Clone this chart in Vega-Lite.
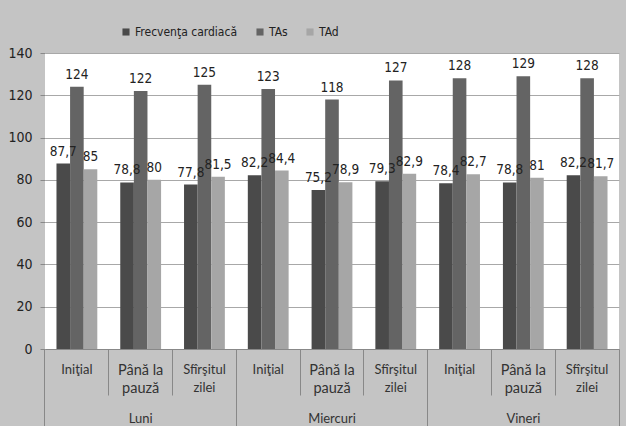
{
  "$schema": "https://vega.github.io/schema/vega-lite/v6.json",
  "width": 574,
  "height": 296,
  "autosize": {"type": "none"},
  "padding": {"left": 45, "top": 53, "right": 7, "bottom": 77},
  "background": "#c4c4c4",
  "config": {
    "view": {"fill": "white", "stroke": null},
    "locale": {"number": {"decimal": ",", "thousands": ".", "grouping": [3], "currency": ["", ""]}},
    "legend": {
      "orient": "none", "legendX": 75, "legendY": -27, "direction": "horizontal",
      "title": null, "symbolType": "square", "symbolSize": 50, "symbolStrokeWidth": 0,
      "labelFont": "Liberation Sans Narrow, DejaVu Sans Condensed, Liberation Sans", "labelFontSize": 12, "labelColor": "#222",
      "columnPadding": 16, "labelOffset": 3
    }
  },
  "data": {"values": [
    {"cat": "Luni|Iniţial", "m": "Frecvenţa cardiacă", "v": 87.7},
    {"cat": "Luni|Iniţial", "m": "TAs", "v": 124},
    {"cat": "Luni|Iniţial", "m": "TAd", "v": 85},
    {"cat": "Luni|Până la pauză", "m": "Frecvenţa cardiacă", "v": 78.8},
    {"cat": "Luni|Până la pauză", "m": "TAs", "v": 122},
    {"cat": "Luni|Până la pauză", "m": "TAd", "v": 80},
    {"cat": "Luni|Sfîrşitul zilei", "m": "Frecvenţa cardiacă", "v": 77.8},
    {"cat": "Luni|Sfîrşitul zilei", "m": "TAs", "v": 125},
    {"cat": "Luni|Sfîrşitul zilei", "m": "TAd", "v": 81.5},
    {"cat": "Miercuri|Iniţial", "m": "Frecvenţa cardiacă", "v": 82.2},
    {"cat": "Miercuri|Iniţial", "m": "TAs", "v": 123},
    {"cat": "Miercuri|Iniţial", "m": "TAd", "v": 84.4},
    {"cat": "Miercuri|Până la pauză", "m": "Frecvenţa cardiacă", "v": 75.2},
    {"cat": "Miercuri|Până la pauză", "m": "TAs", "v": 118},
    {"cat": "Miercuri|Până la pauză", "m": "TAd", "v": 78.9},
    {"cat": "Miercuri|Sfîrşitul zilei", "m": "Frecvenţa cardiacă", "v": 79.3},
    {"cat": "Miercuri|Sfîrşitul zilei", "m": "TAs", "v": 127},
    {"cat": "Miercuri|Sfîrşitul zilei", "m": "TAd", "v": 82.9},
    {"cat": "Vineri|Iniţial", "m": "Frecvenţa cardiacă", "v": 78.4},
    {"cat": "Vineri|Iniţial", "m": "TAs", "v": 128},
    {"cat": "Vineri|Iniţial", "m": "TAd", "v": 82.7},
    {"cat": "Vineri|Până la pauză", "m": "Frecvenţa cardiacă", "v": 78.8},
    {"cat": "Vineri|Până la pauză", "m": "TAs", "v": 129},
    {"cat": "Vineri|Până la pauză", "m": "TAd", "v": 81},
    {"cat": "Vineri|Sfîrşitul zilei", "m": "Frecvenţa cardiacă", "v": 82.2},
    {"cat": "Vineri|Sfîrşitul zilei", "m": "TAs", "v": 128},
    {"cat": "Vineri|Sfîrşitul zilei", "m": "TAd", "v": 81.7}
  ]},
  "layer": [
    {
      "mark": {"type": "bar"},
      "encoding": {
        "x": {
          "field": "cat", "type": "nominal", "sort": null,
          "scale": {"paddingInner": 0.36, "paddingOuter": 0.18},
          "axis": {
            "title": null, "orient": "bottom", "offset": 0, "grid": false,
            "bandPosition": -0.28125, "tickSize": 46, "tickColor": "#888", "domainColor": "#888",
            "labelPadding": -32, "labelOffset": 0, "labelAlign": "center", "labelBaseline": "top",
            "labelAngle": 0, "labelOverlap": false, "labelBound": false, "labelFlush": false,
            "labelFont": "Lato", "labelColor": "#333", "labelLineHeight": 18,
            "labelFontSize": {"condition": {"test": "indexof(datum.value, 'Până') >= 0", "value": 14.5}, "value": 13},
            "labelExpr": "split(datum.value,'|')[1] == 'Iniţial' ? 'Iniţial' : (split(datum.value,'|')[1] == 'Până la pauză' ? ['Până la','pauză'] : ['Sfîrşitul','zilei'])"
          }
        },
        "xOffset": {"field": "m", "type": "nominal", "sort": ["Frecvenţa cardiacă", "TAs", "TAd"], "scale": {"paddingInner": 0, "paddingOuter": 0}},
        "y": {
          "field": "v", "type": "quantitative", "scale": {"domain": [0, 140]},
          "axis": {
            "title": null, "values": [0, 20, 40, 60, 80, 100, 120, 140], "domain": false,
            "tickSize": 5, "tickColor": "#888", "gridColor": "#a8a8a8", "labelPadding": 8,
            "labelFont": "Liberation Sans Narrow, DejaVu Sans Condensed, Liberation Sans", "labelFontSize": 14, "labelColor": "#222"
          }
        },
        "color": {
          "field": "m", "type": "nominal", "sort": ["Frecvenţa cardiacă", "TAs", "TAd"],
          "scale": {"domain": ["Frecvenţa cardiacă", "TAs", "TAd"], "range": ["#4a4a4a", "#646464", "#a6a6a6"]}
        }
      }
    },
    {
      "mark": {"type": "text", "baseline": "bottom", "dy": -5, "font": "Liberation Sans Narrow, DejaVu Sans Condensed, Liberation Sans", "fontSize": 13.5, "fill": "#222"},
      "encoding": {
        "x": {
          "field": "cat", "type": "nominal", "sort": null,
          "axis": {
            "title": null, "orient": "bottom", "offset": 0, "grid": false, "domain": false,
            "values": ["Luni|Iniţial", "Miercuri|Iniţial", "Vineri|Iniţial"],
            "bandPosition": -0.28125, "tickSize": 77, "tickColor": "#888",
            "labelPadding": -14, "labelOffset": 63.8, "labelAlign": "center", "labelBaseline": "top",
            "labelAngle": 0, "labelOverlap": false, "labelBound": false, "labelFlush": false,
            "labelFont": "Lato", "labelFontSize": 13, "labelColor": "#333",
            "labelExpr": "split(datum.value,'|')[0]"
          }
        },
        "xOffset": {"field": "m", "type": "nominal", "sort": ["Frecvenţa cardiacă", "TAs", "TAd"]},
        "y": {"field": "v", "type": "quantitative"},
        "text": {"field": "v", "type": "quantitative", "format": ".1~f"}
      }
    },
    {
      "mark": {"type": "point", "opacity": 0},
      "encoding": {
        "x": {
          "field": "cat", "type": "nominal", "sort": null,
          "axis": {
            "title": null, "orient": "bottom", "offset": 0, "grid": false, "domain": false,
            "values": ["Vineri|Sfîrşitul zilei"], "bandPosition": 1.28125, "tickSize": 77, "tickColor": "#888",
            "labels": false
          }
        },
        "y": {"field": "v", "type": "quantitative"}
      }
    }
  ],
  "resolve": {"axis": {"x": "independent"}}
}
